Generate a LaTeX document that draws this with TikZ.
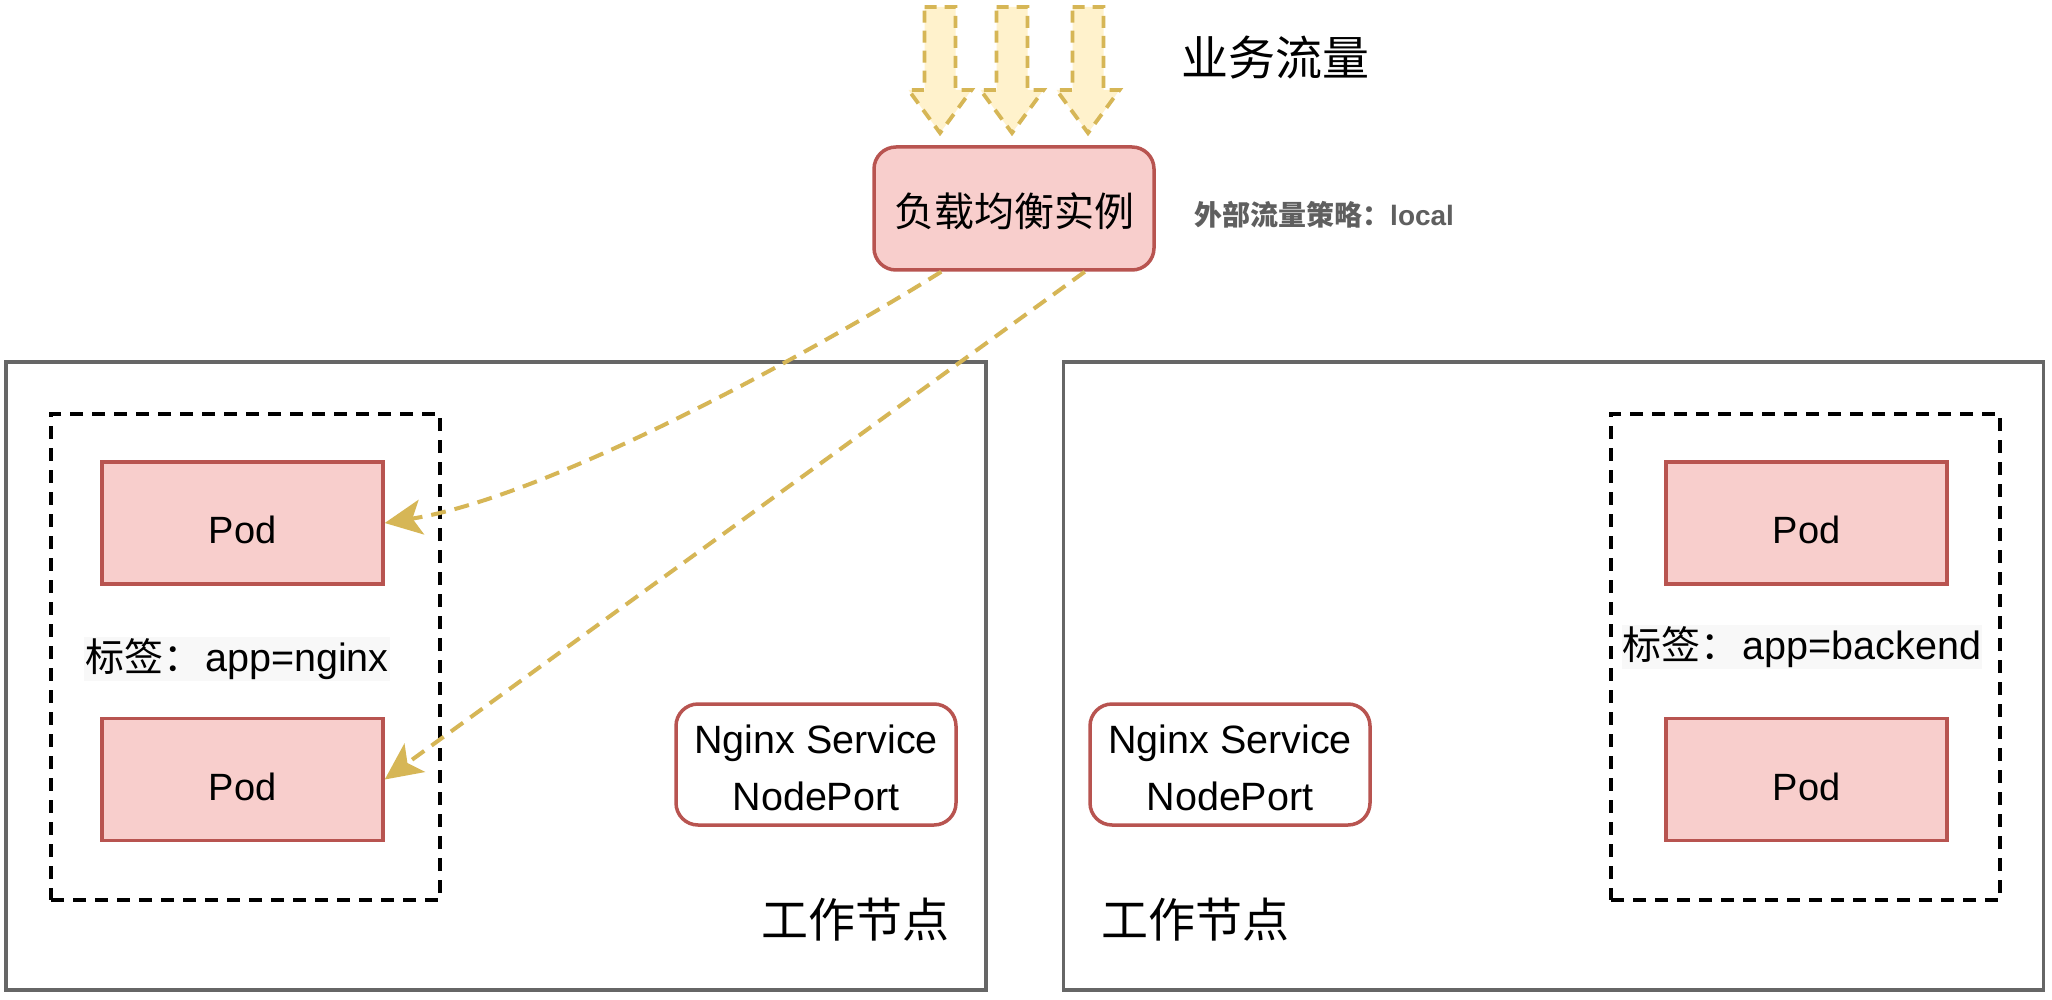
\documentclass[tikz,border=0pt]{standalone}
\usepackage{fontspec}
\setmainfont{Liberation Sans}
\newfontfamily\cjk{Noto Sans CJK SC}
\usetikzlibrary{arrows.meta}
\definecolor{gold}{HTML}{D6B656}
\definecolor{cream}{HTML}{FFF2CC}
\definecolor{podfill}{HTML}{F8CECC}
\definecolor{podline}{HTML}{B85450}
\definecolor{nodegray}{HTML}{666666}
\definecolor{labelbg}{HTML}{F8F8F8}
\definecolor{notegray}{HTML}{5F5F5F}
\begin{document}
\begin{tikzpicture}[x=1pt,y=-1pt,
  worker/.style={draw=nodegray, line width=3.8pt, minimum width=980pt, minimum height=628pt, inner sep=0pt},
  group/.style={draw=black, line width=4.2pt, dash pattern=on 13pt off 9pt, minimum width=389pt, minimum height=486pt, inner sep=0pt},
  pod/.style={draw=podline, fill=podfill, line width=3.5pt, minimum width=281pt, minimum height=122pt, inner sep=0pt},
  podtext/.style={inner sep=0pt, yshift=-7pt, font=\fontsize{38}{46}\selectfont},
  svc/.style={draw=podline, fill=white, line width=3.5pt, rounded corners=22pt, minimum width=280pt, minimum height=121pt, inner sep=0pt},
  svctext/.style={inner sep=0pt, yshift=-3.5pt, align=center, font=\fontsize{39.5}{57}\selectfont},
  lbbox/.style={draw=podline, fill=podfill, line width=3.5pt, rounded corners=22pt, minimum width=280pt, minimum height=123pt, inner sep=0pt},
  lbtext/.style={inner sep=0pt, yshift=-3pt, font=\fontsize{40}{48}\selectfont\cjk},
  lbl/.style={fill=labelbg, inner xsep=1pt, inner ysep=0pt, minimum height=44pt, font=\fontsize{39.5}{46}\selectfont},
  nodetitle/.style={inner sep=0pt, font=\fontsize{47}{56}\selectfont\cjk},
  flowtitle/.style={inner sep=0pt, anchor=west, font=\fontsize{47}{56}\selectfont\cjk},
  note/.style={inner sep=0pt, anchor=west, text=notegray, font=\fontsize{28}{34}\selectfont\bfseries},
  blockarrow/.style={draw=gold, fill=cream, line width=3.8pt, dash pattern=on 12pt off 8pt, line join=miter},
  flow/.style={draw=gold, line width=4pt, dash pattern=on 15pt off 9pt, -{Stealth[length=37pt, width=35pt, inset=9pt, fill=gold]}}
]
\fill[white] (0,0) rectangle (2052,1000);
\useasboundingbox (0,0) rectangle (2052,1000);

% block arrows (business traffic)
\foreach \c in {940,1012,1088} {
  \draw[blockarrow] (\c-15.5,7) -- (\c+15.5,7) -- (\c+15.5,90) -- (\c+31.5,90) -- (\c,133) -- (\c-31.5,90) -- (\c-15.5,90) -- cycle;
}
\node[flowtitle] (biz) at (1181,58) {业务流量};

% load balancer
\node[lbbox, label={[lbtext]center:负载均衡实例}] (lb) at (1014,208.5) {};
\node[note] (policy) at (1194,215) {{\cjk 外部流量策略：}local};

% worker nodes
\node[worker] (w1) at (496,676) {};
\node[worker] (w2) at (1553.5,676) {};

% left worker content
\node[group] (g1) at (245.5,657) {};
\node[pod, label={[podtext]center:Pod}] (p1) at (242.5,523) {};
\node[pod, label={[podtext]center:Pod}] (p2) at (242.5,779.5) {};
\node[lbl] (l1) at (237,659) {{\cjk\fontsize{39}{46}\selectfont 标签：}\kern3pt app=nginx};
\node[svc, label={[svctext]center:{Nginx Service\\NodePort}}] (s1) at (816,764.5) {};
\node[nodetitle] (t1) at (855.5,920) {工作节点};

% right worker content
\node[group] (g2) at (1805.5,657) {};
\node[pod, label={[podtext]center:Pod}] (p3) at (1806.5,523) {};
\node[pod, label={[podtext]center:Pod}] (p4) at (1806.5,779.5) {};
\node[lbl] (l2) at (1802,647) {{\cjk\fontsize{39}{46}\selectfont 标签：}\kern3pt app=backend};
\node[svc, label={[svctext]center:{Nginx Service\\NodePort}}] (s2) at (1230,764.5) {};
\node[nodetitle] (t2) at (1195.5,920) {工作节点};

% traffic to pods
\draw[flow] ([xshift=69pt]lb.south west) .. controls (840,335) and (560,495) .. (p1.east);
\draw[flow] ([xshift=-71pt]lb.south east) -- (p2.east);
\end{tikzpicture}
\end{document}
